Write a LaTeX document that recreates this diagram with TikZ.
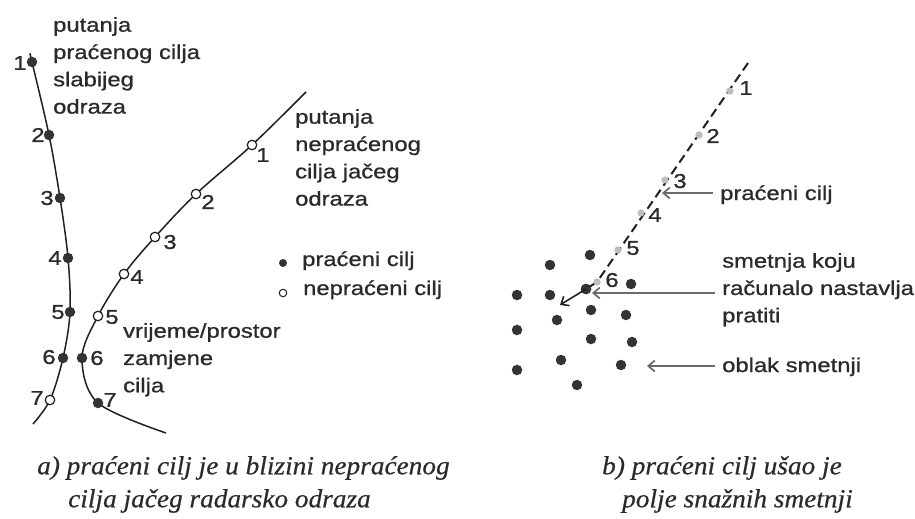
\documentclass[tikz,border=0pt]{standalone}
\usepackage{fontspec}
\newfontfamily\labfont[FakeStretch=1.19,FakeBold=0.9]{Liberation Sans}
\newfontfamily\capfont[FakeStretch=1.05,FakeBold=0.5]{Liberation Serif}
\usetikzlibrary{arrows.meta}
\definecolor{ink}{HTML}{202020}
\definecolor{txt}{HTML}{2A2A2A}
\definecolor{dotc}{HTML}{333333}
\definecolor{arrc}{HTML}{6A6A6A}
\definecolor{mark}{HTML}{BDBDBD}
\begin{document}
\begin{tikzpicture}[x=1pt,y=-1pt,
  lbl/.style={font=\labfont\fontsize{20}{27.3}\selectfont, text=txt, inner sep=0pt, align=left},
  num/.style={font=\labfont\fontsize{20}{27}\selectfont, text=txt, inner sep=0pt},
  capt/.style={font=\capfont\itshape\fontsize{26}{33}\selectfont, text=txt, inner sep=0pt, align=left},
  fdot/.style={circle, fill=dotc, inner sep=0pt, minimum size=10.5pt},
  odot/.style={circle, draw=ink, fill=white, line width=1.2pt, inner sep=0pt, minimum size=9.5pt},
  ldot/.style={circle, fill=dotc, inner sep=0pt, minimum size=8pt},
  lodot/.style={circle, draw=ink, fill=white, line width=1pt, inner sep=0pt, minimum size=7.5pt},
  mk/.style={circle, fill=mark, inner sep=0pt, minimum size=7pt},
  track/.style={draw=ink, line width=1.5pt},
  pointer/.style={draw=arrc, line width=1.7pt, -{Straight Barb[length=6.5pt,width=11pt]}},
  tpointer/.style={draw=ink, line width=1.6pt, -{Straight Barb[length=6.5pt,width=11pt]}}]
\useasboundingbox (0,0) rectangle (915,519);

% ---------- panel a: trajectories ----------
\coordinate (Ls) at (30,54);
\coordinate (Le) at (33,424);
\coordinate (Rs) at (306,92);
\coordinate (Re) at (166,433);
\coordinate (L1) at (32,62);
\coordinate (L2) at (49,135);
\coordinate (L3) at (60,198);
\coordinate (L4) at (68,258);
\coordinate (L5) at (70,312);
\coordinate (L6) at (63,358);
\coordinate (L7) at (50,400);
\coordinate (R1) at (252,145);
\coordinate (R2) at (196,194);
\coordinate (R3) at (155,237);
\coordinate (R4) at (124,274);
\coordinate (R5) at (98,316);
\coordinate (R6) at (82,358);
\coordinate (R7) at (98,403);

\draw[track] plot[smooth, tension=0.55] coordinates {(Ls) (L1) (L2) (L3) (L4) (L5) (L6) (L7) (Le)};
\draw[track] plot[smooth, tension=0.55] coordinates {(Rs) (R1) (R2) (R3) (R4) (R5) (R6) (R7) (Re)};

\foreach \p in {L1,L2,L3,L4,L5,L6} \node[fdot] (d\p) at (\p) {};
\node[odot] (dL7) at (L7) {};
\foreach \p in {R1,R2,R3,R4,R5} \node[odot] (d\p) at (\p) {};
\node[fdot] (dR6) at (R6) {};
\node[fdot] (dR7) at (R7) {};

\node[num] (nL1) at (20,63) {1};
\node[num] (nL2) at (38,135) {2};
\node[num] (nL3) at (47,198) {3};
\node[num] (nL4) at (55,258) {4};
\node[num] (nL5) at (58,312) {5};
\node[num] (nL6) at (49,357) {6};
\node[num] (nL7) at (37,398) {7};
\node[num] (nR1) at (263,155) {1};
\node[num] (nR2) at (208,202) {2};
\node[num] (nR3) at (170,242) {3};
\node[num] (nR4) at (137,277) {4};
\node[num] (nR5) at (112,317) {5};
\node[num] (nR6) at (97,358) {6};
\node[num] (nR7) at (110,400) {7};

\node[lbl, anchor=north west] (t1) at (53,17) {putanja\\praćenog cilja\\slabijeg\\odraza};
\node[lbl, anchor=north west] (t2) at (295,109) {putanja\\nepraćenog\\cilja jačeg\\odraza};
\node[lbl, anchor=north west] (t3) at (123,323) {vrijeme/prostor\\zamjene\\cilja};

\node[ldot] (lg1) at (283,263) {};
\node[lodot] (lg2) at (283,293) {};
\node[lbl, anchor=base west] (lt1) at (302,266) {praćeni cilj};
\node[lbl, anchor=base west] (lt2) at (303,295) {nepraćeni cilj};

% ---------- panel b: clutter ----------
\coordinate (Bs) at (748,63);
\node[mk] (M1) at (730,91) {};
\node[mk] (M2) at (699,135) {};
\node[mk] (M3) at (665,180) {};
\node[mk] (M4) at (641,213) {};
\node[mk] (M5) at (618,250) {};
\node[mk] (M6) at (597,282) {};
\node[fdot] (T) at (586,289) {};
\coordinate (Tend) at (560,305);
\draw[ink, line width=2pt, dash pattern=on 9pt off 5pt] (Bs) -- (M6.center) -- (T.center);
\foreach \m in {M1,M2,M3,M4,M5,M6} \node[mk] at (\m) {};
\node[fdot] at (T) {};
\draw[tpointer] (T.center) -- (Tend);

\node[num] (b1) at (746,88) {1};
\node[num] (b2) at (713,136) {2};
\node[num] (b3) at (680,181) {3};
\node[num] (b4) at (655,215) {4};
\node[num] (b5) at (633,248) {5};
\node[num] (b6) at (612,280) {6};

\foreach \i/\x/\y in {1/590/255,2/550/265,3/517/295,4/550/295,5/631/284,6/591/310,7/626/315,8/557/320,9/517/330,10/591/339,11/632/342,12/561/360,13/621/365,14/517/370,15/577/385}
  \node[fdot] (c\i) at (\x,\y) {};

\node[lbl, anchor=base west] (pc) at (720,200) {praćeni cilj};
\node[lbl, anchor=north west] (sm) at (722,253) {smetnja koju\\računalo nastavlja\\pratiti};
\node[lbl, anchor=base west] (ob) at (722,372) {oblak smetnji};

\coordinate (tipA) at (662,193);
\coordinate (tipB) at (592,293);
\coordinate (tipC) at (647,366);
\draw[pointer] ([xshift=-7pt]pc.west |- tipA) -- (tipA);
\draw[pointer] ([xshift=-7pt]sm.west |- tipB) -- (tipB);
\draw[pointer] ([xshift=-7pt]ob.west |- tipC) -- (tipC);

% ---------- captions ----------
\node[capt, anchor=north west] (ca) at (37,456) {a) praćeni cilj je u blizini nepraćenog\\\hspace*{31pt}cilja jačeg radarsko odraza};
\node[capt, anchor=north west] (cb) at (602,456) {b) praćeni cilj ušao je\\\hspace*{20pt}polje snažnih smetnji};
\end{tikzpicture}
\end{document}
